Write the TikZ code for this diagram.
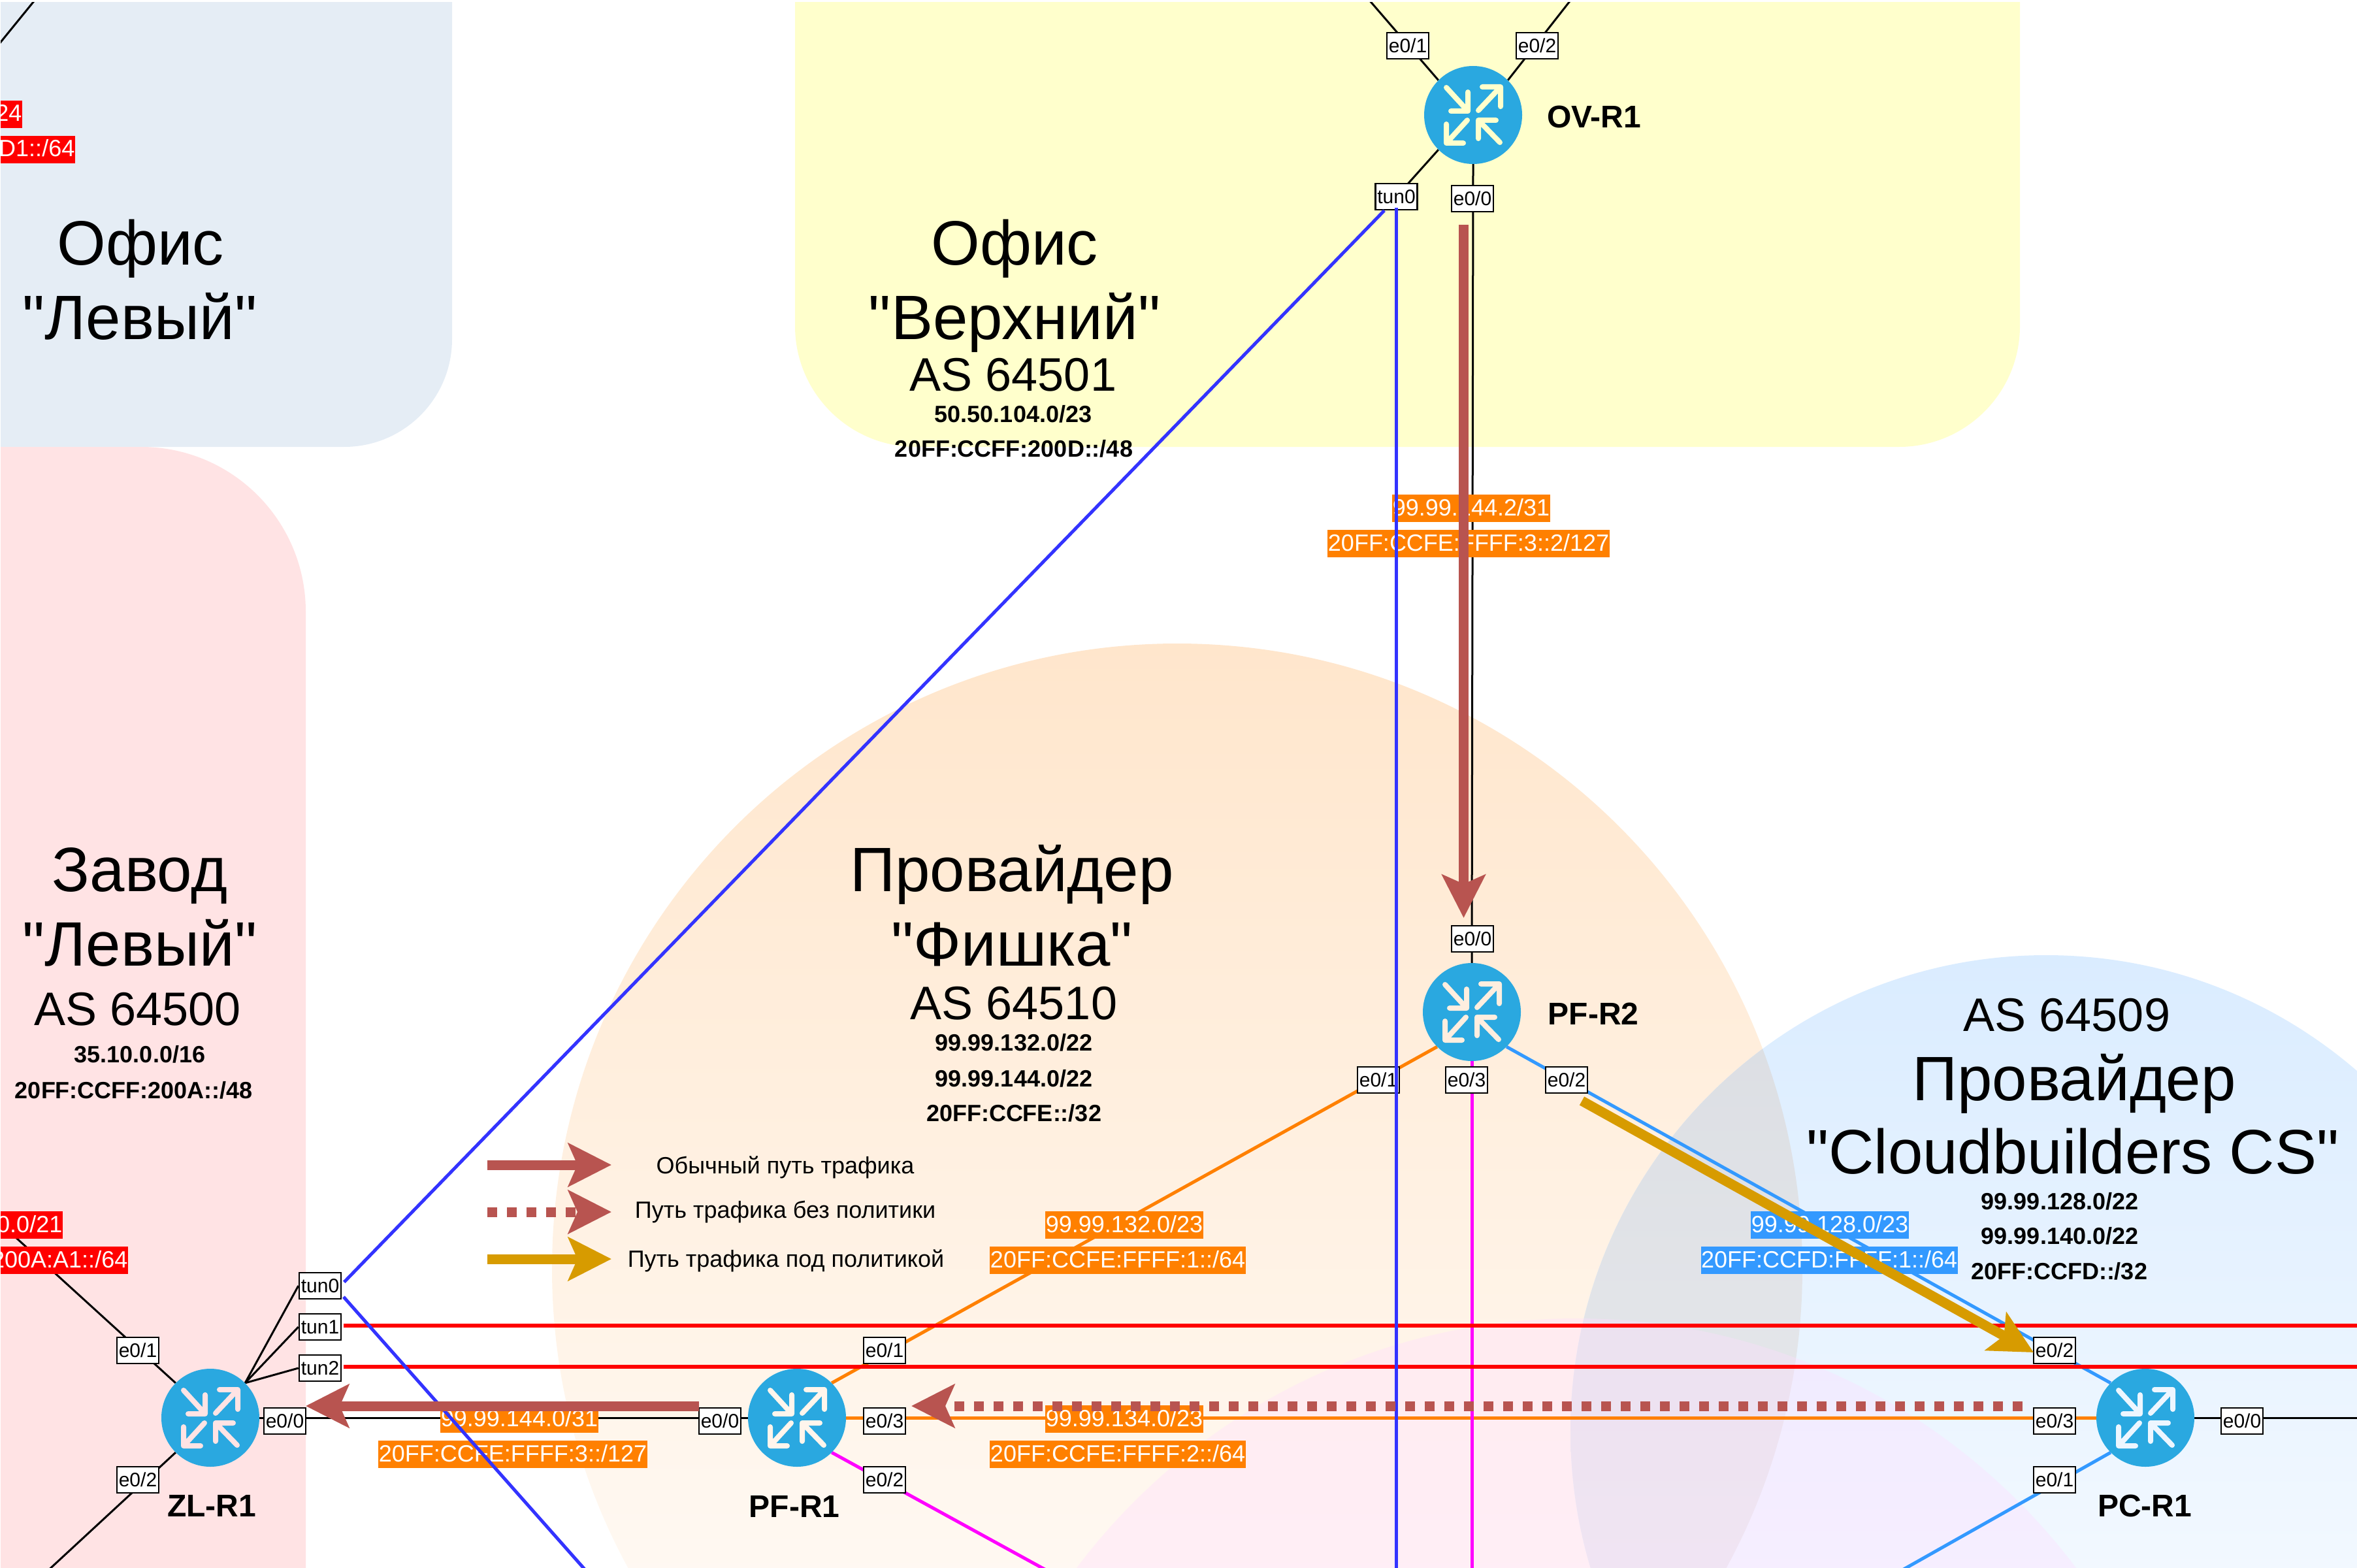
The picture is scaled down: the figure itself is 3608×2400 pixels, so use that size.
\documentclass[tikz,border=0pt]{standalone}
\usepackage{fontspec}
\setmainfont{Liberation Sans}
\newfontfamily\plainsans{Liberation Sans}
\usetikzlibrary{arrows.meta}
\pgfdeclarelayer{panels}
\pgfdeclarelayer{links}
\pgfdeclarelayer{over}
\pgfsetlayers{panels,links,main,over}
\definecolor{cyanrouter}{HTML}{2AA8E0}
\definecolor{panelblue}{HTML}{E5EDF5}
\definecolor{panelpink}{HTML}{FFE3E4}
\definecolor{panelyellow}{HTML}{FFFFCC}
\definecolor{linkorange}{HTML}{FF8000}
\definecolor{linksky}{HTML}{3399FF}
\definecolor{linkmag}{HTML}{FF00FF}
\definecolor{linktun}{HTML}{3333FF}
\definecolor{trafbrown}{HTML}{B85450}
\definecolor{trafgold}{HTML}{D79B00}
\definecolor{circleorange}{HTML}{FFE6CC}
\definecolor{circleblue}{HTML}{DAECFF}
\definecolor{overlaptop}{HTML}{DADDE2}
\definecolor{overlapbottom}{HTML}{F0F0F3}
\definecolor{circlelilac}{HTML}{FFDDFF}
\definecolor{iconpftwo}{HTML}{FEEEDF}
\definecolor{iconpfone}{HTML}{FFF5EC}
\definecolor{iconpc}{HTML}{EDF6FF}
\newcommand{\pageclip}{\clip (1,4) rectangle (3608,2400);}
\tikzset{
  router/.style={circle,fill=cyanrouter,minimum size=150pt,inner sep=0pt},
  routername/.style={font=\fontsize{48}{52}\selectfont\bfseries,inner sep=0pt},
  iface/.style={draw=black,line width=2.5pt,fill=white,minimum width=64pt,minimum height=40pt,inner sep=0pt,font=\fontsize{30}{32}\selectfont},
  netlabel/.style={fill=#1,text=white,inner ysep=0pt,inner xsep=0.5pt,text height=32pt,text depth=10pt,font=\fontsize{36}{40}\selectfont},
  bigname/.style={anchor=base,inner sep=0pt,font=\plainsans\fontsize{96}{114}\selectfont},
  asname/.style={anchor=base,inner sep=0pt,font=\fontsize{72}{80}\selectfont},
  netprefix/.style={anchor=base,inner sep=0pt,font=\fontsize{36}{40}\selectfont\bfseries},
  legendtext/.style={inner sep=0pt,font=\fontsize{36}{40}\selectfont},
  thinlink/.style={draw=black,line width=3pt},
  orangelink/.style={draw=linkorange,line width=5pt},
  skylink/.style={draw=linksky,line width=5pt},
  maglink/.style={draw=linkmag,line width=5pt},
  tunlink/.style={draw=linktun,line width=5pt},
  redlink/.style={draw=red,line width=5.5pt},
  traffic/.style={line width=15pt,draw=#1,-{Stealth[length=66pt,width=66pt,inset=14pt]}},
  trafficdots/.style={line width=15pt,draw=#1,dash pattern=on 15pt off 15pt,-{Stealth[length=66pt,width=66pt,inset=14pt]}},
  routericon/.pic={
    \draw[pic actions,line width=8pt,line cap=round,line join=round]
      (8,-7)--(42,-43) (14,-43)--(42,-43)--(42,-13)
      (-41,-42)--(-8,-6) (-34,-6)--(-8,-6)--(-8,-35)
      (-9,8)--(-41,43) (-15,43)--(-41,43)--(-41,14)
      (41,42)--(8,8) (35,8)--(8,8)--(8,36);
  }
}
\begin{document}
\begin{tikzpicture}[x=1pt,y=-1pt]
\useasboundingbox (0,0) rectangle (3608,2400);
% ---------- coloured zones
\begin{pgfonlayer}{panels}
\pageclip
\fill[panelblue] [rounded corners=165pt] (-400,-400) rectangle (692,684);
\fill[panelpink] [rounded corners=252pt] (-400,684) rectangle (468,2800);
\fill[panelyellow] [rounded corners=185pt] (1217,-400) rectangle (3092,684);
\shade[top color=circleorange,bottom color=white] (1802,1942) circle[radius=957];
\shade[top color=circleblue,bottom color=white] (3132,2190) circle[radius=728];
\begin{scope}
\clip (1802,1942) circle[radius=957];
\shade[top color=overlaptop,bottom color=overlapbottom] (3132,2190) circle[radius=728];
\end{scope}
\fill[fill=circlelilac,opacity=.35] (2413,2975) circle[radius=957];
\end{pgfonlayer}
% ---------- routers
\node[router] (ov) at (2255,176) {};
\node[router] (pf2) at (2253,1549) {};
\node[router] (zl) at (322,2170) {};
\node[router] (pf1) at (1220,2170) {};
\node[router] (pc) at (3284,2170) {};
\begin{scope}
\pageclip
\pic[draw=panelyellow] at (ov) {routericon};
\pic[draw=iconpftwo] at (pf2) {routericon};
\pic[draw=panelpink] at (zl) {routericon};
\pic[draw=iconpfone] at (pf1) {routericon};
\pic[draw=iconpc] at (pc) {routericon};
\node[routername] (nov) at (2440,179) {OV-R1};
\node[routername] (npf2) at (2439,1552) {PF-R2};
\node[routername] (nzl) at (324,2305) {ZL-R1};
\node[routername] (npf1) at (1216,2306) {PF-R1};
\node[routername] (npc) at (3283,2305) {PC-R1};
% ---------- interfaces
\node[iface] (oe1) at (2155,70) {e0/1};
\node[iface] (oe2) at (2353,70) {e0/2};
\node[iface] (ot0) at (2137.5,301) {tun0};
\node[iface] (oe0) at (2254,304) {e0/0};
\node[iface] (ze1) at (211,2067) {e0/1};
\node[iface] (ze2) at (211,2265) {e0/2};
\node[iface] (ze0) at (436,2175) {e0/0};
\node[iface] (zt0) at (490,1968) {tun0};
\node[iface] (zt1) at (490,2031) {tun1};
\node[iface] (zt2) at (490,2094) {tun2};
\node[iface] (fe0) at (1102,2175) {e0/0};
\node[iface] (fe1) at (1354,2067) {e0/1};
\node[iface] (fe3) at (1354,2175) {e0/3};
\node[iface] (fe2) at (1354,2265) {e0/2};
\node[iface] (re0) at (2254,1437) {e0/0};
\node[iface] (re1) at (2110,1653) {e0/1};
\node[iface] (re3) at (2245,1653) {e0/3};
\node[iface] (re2) at (2398,1653) {e0/2};
\node[iface] (ce2) at (3145,2067) {e0/2};
\node[iface] (ce3) at (3145,2175) {e0/3};
\node[iface] (ce1) at (3145,2265) {e0/1};
\node[iface] (ce0) at (3432,2175) {e0/0};
% ---------- network labels
\node[netlabel=linkorange] (l1) at (2252,778) {99.99.144.2/31};
\node[netlabel=linkorange] (l2) at (2248,832) {20FF:CCFE:FFFF:3::2/127};
\node[netlabel=linkorange] (l3) at (1721,1875) {99.99.132.0/23};
\node[netlabel=linkorange] (l4) at (1711,1929) {20FF:CCFE:FFFF:1::/64};
\node[netlabel=linkorange] (l5) at (1721,2172) {99.99.134.0/23};
\node[netlabel=linkorange] (l6) at (1711,2226) {20FF:CCFE:FFFF:2::/64};
\node[netlabel=linkorange] (l7) at (795,2172) {99.99.144.0/31};
\node[netlabel=linkorange] (l8) at (785,2226) {20FF:CCFE:FFFF:3::/127};
\node[netlabel=linksky] (l9) at (2801,1875) {99.99.128.0/23};
\node[netlabel=linksky] (l10) at (2800,1929) {20FF:CCFD:FFFF:1::/64};
\node[netlabel=red,anchor=east] (l11) at (34,175) {24};
\node[netlabel=red,anchor=east] (l12) at (115,229) {D1::/64};
\node[netlabel=red,anchor=east] (l13) at (96,1875) {0.0/21};
\node[netlabel=red,anchor=east] (l14) at (196,1929) {200A:A1::/64};
% ---------- zone titles
\node[bigname] (a1) at (215,405) {Офис};
\node[bigname] (a2) at (214,519) {"Левый"};
\node[bigname] (b1) at (1553,405) {Офис};
\node[bigname] (b2) at (1553,519) {"Верхний"};
\node[asname] (b3) at (1551,598) {AS 64501};
\node[netprefix] (b4) at (1551,646) {50.50.104.0/23};
\node[netprefix] (b5) at (1552,699) {20FF:CCFF:200D::/48};
\node[bigname] (c1) at (214,1364) {Завод};
\node[bigname] (c2) at (214,1478) {"Левый"};
\node[asname] (c3) at (211,1569) {AS 64500};
\node[netprefix] (c4) at (214,1626) {35.10.0.0/16};
\node[netprefix] (c5) at (205,1681) {20FF:CCFF:200A::/48};
\node[bigname] (d1) at (1549,1364) {Провайдер};
\node[bigname] (d2) at (1549,1478) {"Фишка"};
\node[asname] (d3) at (1552,1560) {AS 64510};
\node[netprefix] (d4) at (1552,1608) {99.99.132.0/22};
\node[netprefix] (d5) at (1552,1663) {99.99.144.0/22};
\node[netprefix] (d6) at (1552,1716) {20FF:CCFE::/32};
\node[asname] (e1) at (3164,1578) {AS 64509};
\node[bigname] (e2) at (3175,1684) {Провайдер};
\node[bigname] (e3) at (3173,1796) {"Cloudbuilders CS"};
\node[netprefix] (e4) at (3153,1851) {99.99.128.0/22};
\node[netprefix] (e5) at (3153,1904) {99.99.140.0/22};
\node[netprefix] (e6) at (3152,1958) {20FF:CCFD::/32};
% ---------- legend text
\node[legendtext] (g1) at (1202,1787) {Обычный путь трафика};
\node[legendtext] (g2) at (1202,1855) {Путь трафика без политики};
\node[legendtext] (g3) at (1203,1930) {Путь трафика под политикой};
\end{scope}
% ---------- free ends
\coordinate (ovup1) at (2082,-16);
\coordinate (ovup2) at (2417,-16);
\coordinate (zlout1) at (-10,1863);
\coordinate (zlout2) at (56,2420);
\coordinate (pfout) at (1632,2420);
\coordinate (pf2out) at (2253,2420);
\coordinate (pcout1) at (2882,2420);
\coordinate (pcout2) at (3640,2170);
\coordinate (tundown) at (911,2420);
\coordinate (tunvert) at (2137.5,2420);
\coordinate (redend1) at (3640,2029);
\coordinate (redend2) at (3640,2092);
\coordinate (cornerA) at (-10,78);
\coordinate (cornerB) at (60,-8);
% ---------- links under the nodes
\begin{pgfonlayer}{links}
\pageclip
\draw[thinlink] (cornerA) -- (cornerB);
\draw[thinlink] (ov.135) -- (ovup1);
\draw[thinlink] (ov.45) -- (ovup2);
\draw[thinlink] (ov.225) -- (ot0.center);
\draw[thinlink] (ov.south) -- (pf2.north);
\draw[thinlink] (zl.135) -- (zlout1);
\draw[thinlink] (zl.225) -- (zlout2);
\draw[thinlink] (zl.45) -- (zt0.west);
\draw[thinlink] (zl.45) -- (zt1.west);
\draw[thinlink] (zl.45) -- (zt2.west);
\draw[thinlink] (zl.east) -- (pf1.west);
\draw[thinlink] (pc.east) -- (pcout2);
\draw[orangelink] (pf1.east) -- (pc.west);
\draw[orangelink] (pf1.45) -- (pf2.225);
\draw[maglink] (pf1.315) -- (pfout);
\draw[maglink] (pf2.south) -- (pf2out);
\draw[skylink] (pf2.315) -- (pc.135);
\draw[skylink] (pc.225) -- (pcout1);
\draw[redlink,shorten <=3pt] ([yshift=2pt]zt1.east) -- (redend1);
\draw[redlink,shorten <=3pt] ([yshift=2pt]zt2.east) -- (redend2);
\end{pgfonlayer}
% ---------- tunnels and traffic paths on top
\begin{pgfonlayer}{over}
\pageclip
\draw[tunlink,shorten <=5pt] ([yshift=2pt]zt0.east) -- ([xshift=-18.5pt]ot0.south);
\draw[tunlink,shorten <=4pt] ([yshift=-14pt]zt0.east) -- (tundown);
\draw[tunlink] ([yshift=4pt]ot0.south) -- (tunvert);
\coordinate (ta) at (2240.5,344);
\coordinate (tb) at (2240.5,1405);
\draw[traffic=trafbrown] (ta) -- (tb);
\coordinate (tc) at (1070,2152);
\coordinate (td) at (468,2152);
\draw[traffic=trafbrown] (tc) -- (td);
\coordinate (te) at (3096,2152);
\coordinate (tf) at (1395,2152);
\draw[trafficdots=trafbrown] (te) -- (tf);
\coordinate (tg) at (2421.5,1685);
\coordinate (th) at (3113,2070);
\draw[traffic=trafgold] (tg) -- (th);
\coordinate (la) at (746,1783);
\coordinate (lb) at (936,1783);
\draw[traffic=trafbrown] (la) -- (lb);
\coordinate (lc) at (746,1855);
\coordinate (ld) at (936,1855);
\draw[trafficdots=trafbrown] (lc) -- (ld);
\coordinate (le) at (746,1927);
\coordinate (lf) at (936,1927);
\draw[traffic=trafgold] (le) -- (lf);
\end{pgfonlayer}
\end{tikzpicture}
\end{document}
